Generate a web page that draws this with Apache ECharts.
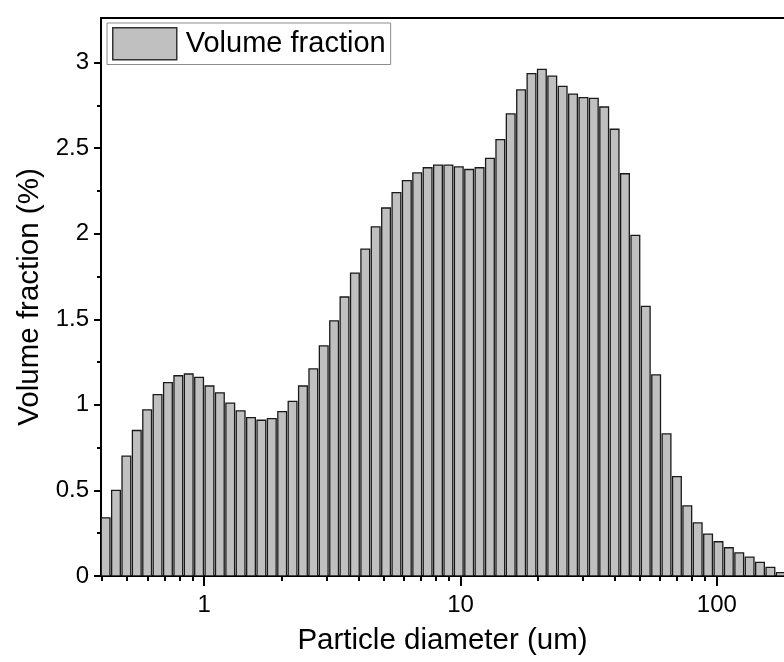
<!DOCTYPE html>
<html>
<head>
<meta charset="utf-8">
<script src="https://cdn.jsdelivr.net/npm/echarts@6/dist/echarts.min.js"></script>
<style>
html,body{margin:0;padding:0;background:#fff;}
#chart{width:784px;height:662px;}
</style>
</head>
<body>
<div id="chart"></div>
<script>
// Bin centre diameters (um)
const diameters = [
  0.4123, 0.4526, 0.4969, 0.5455, 0.5989, 0.6575, 0.7218, 0.7924, 0.8699, 0.9548,
  1.0483, 1.1508, 1.2634, 1.3868, 1.5224, 1.6713, 1.8348, 2.0143, 2.2112, 2.4275,
  2.6650, 2.9256, 3.2118, 3.5260, 3.8709, 4.2494, 4.6651, 5.1215, 5.6223, 6.1722,
  6.7760, 7.4388, 8.1664, 8.9652, 9.8420, 10.805, 11.862, 13.022, 14.296, 15.694,
  17.229, 18.914, 20.764, 22.795, 25.025, 27.472, 30.160, 33.109, 36.348, 39.903,
  43.806, 48.090, 52.794, 57.958, 63.627, 69.850, 76.682, 84.183, 92.417, 101.46,
  111.38, 122.27, 134.23, 147.36, 161.78, 177.60
];
// Volume fraction (%)
const volumeFraction = [
  0.34, 0.50, 0.70, 0.85, 0.97, 1.06, 1.13, 1.17, 1.18, 1.16,
  1.11, 1.07, 1.01, 0.965, 0.925, 0.91, 0.92, 0.96, 1.02, 1.11,
  1.21, 1.345, 1.49, 1.63, 1.77, 1.91, 2.04, 2.15, 2.24, 2.31,
  2.355, 2.385, 2.40, 2.40, 2.39, 2.375, 2.385, 2.44, 2.55, 2.70,
  2.84, 2.935, 2.96, 2.92, 2.86, 2.815, 2.795, 2.79, 2.74, 2.61,
  2.35, 1.99, 1.575, 1.175, 0.83, 0.58, 0.41, 0.31, 0.245, 0.20,
  0.165, 0.135, 0.11, 0.08, 0.05, 0.02
];
const xMajorTicks = [1, 10, 100];
const xMinorTicks = [0.4, 0.5, 0.6, 0.7, 0.8, 0.9, 2, 3, 4, 5, 6, 7, 8, 9, 20, 30, 40, 50, 60, 70, 80, 90];
const yMajorTicks = [0, 0.5, 1, 1.5, 2, 2.5, 3];
const yMinorTicks = [0.25, 0.75, 1.25, 1.75, 2.25, 2.75];

const seriesName = 'Volume fraction';
const FONT = 'Liberation Sans, Arial, Helvetica, sans-serif';
const X_MIN = 0.3956, X_MAX = 182.8;
const Y_MIN = 0, Y_MAX = 3.26;
const fillColor = '#c0c0c0';
const strokeColor = '#1a1a1a';

const chart = echarts.init(document.getElementById('chart'), null, {renderer: 'canvas'});

const data = diameters.map((d, i) => [d, volumeFraction[i]]);

const option = {
  animation: false,
  backgroundColor: '#fff',
  grid: {left: 101, right: 0, top: 18, bottom: 86, containLabel: false, outerBoundsMode: 'none'},
  legend: {
    left: 107, top: 23,
    orient: 'horizontal',
    backgroundColor: '#fff',
    borderColor: '#8c8c8c',
    borderWidth: 1,
    padding: [4, 5, 4, 5],
    itemWidth: 64, itemHeight: 32,
    textStyle: {fontFamily: FONT, fontSize: 29, color: '#000', padding: [0, 0, 0, 4]},
    data: [{name: seriesName, icon: 'rect', itemStyle: {color: fillColor, borderColor: '#333', borderWidth: 1.5}}]
  },
  xAxis: [
    {
      type: 'log', logBase: 10, min: X_MIN, max: X_MAX, position: 'bottom',
      name: 'Particle diameter (um)', nameLocation: 'middle', nameGap: 50,
      nameTextStyle: {fontFamily: FONT, fontSize: 29.5, color: '#000'},
      axisLine: {show: true, lineStyle: {color: '#000', width: 2}},
      axisTick: {show: true, inside: false, length: 10, lineStyle: {color: '#000', width: 2}, customValues: xMajorTicks},
      axisLabel: {show: true, fontFamily: FONT, fontSize: 24, color: '#000', margin: 17, customValues: xMajorTicks,
        formatter: v => String(Math.round(v))},
      splitLine: {show: false}, minorTick: {show: false}, minorSplitLine: {show: false}
    },
    {
      type: 'log', logBase: 10, min: X_MIN, max: X_MAX, position: 'bottom', gridIndex: 0,
      axisLine: {show: false},
      axisTick: {show: true, inside: false, length: 5, lineStyle: {color: '#000', width: 2}, customValues: xMinorTicks},
      axisLabel: {show: false},
      splitLine: {show: false}
    },
    {
      type: 'log', logBase: 10, min: X_MIN, max: X_MAX, position: 'top', gridIndex: 0,
      axisLine: {show: true, lineStyle: {color: '#000', width: 2}},
      axisTick: {show: false}, axisLabel: {show: false}, splitLine: {show: false}
    }
  ],
  yAxis: [
    {
      type: 'value', min: Y_MIN, max: Y_MAX, position: 'left',
      name: 'Volume fraction (%)', nameLocation: 'middle', nameGap: 50, nameRotate: 90,
      nameTextStyle: {fontFamily: FONT, fontSize: 29.5, color: '#000'},
      axisLine: {show: true, lineStyle: {color: '#000', width: 2}},
      axisTick: {show: true, inside: false, length: 7, lineStyle: {color: '#000', width: 2}, customValues: yMajorTicks},
      axisLabel: {show: true, fontFamily: FONT, fontSize: 24, color: '#000', margin: 12, customValues: yMajorTicks,
        formatter: v => String(v)},
      splitLine: {show: false}
    },
    {
      type: 'value', min: Y_MIN, max: Y_MAX, position: 'left', gridIndex: 0,
      axisLine: {show: false},
      axisTick: {show: true, inside: false, length: 4, lineStyle: {color: '#000', width: 2}, customValues: yMinorTicks},
      axisLabel: {show: false}, splitLine: {show: false}
    }
  ],
  series: [{
    name: seriesName,
    type: 'custom',
    xAxisIndex: 0, yAxisIndex: 0,
    clip: true,
    itemStyle: {color: fillColor, borderColor: strokeColor, borderWidth: 1.3},
    encode: {x: 0, y: 1},
    data: data,
    renderItem: function (params, api) {
      const i = params.dataIndex;
      const d = api.value(0), v = api.value(1);
      const base = api.coord([d, 0]);
      const top = api.coord([d, v]);
      const nb = i + 1 < diameters.length ? diameters[i + 1] : diameters[i - 1];
      const pitch = Math.abs(api.coord([nb, 0])[0] - base[0]);
      const w = pitch * 0.84;
      return {
        type: 'rect',
        shape: {x: base[0] - w / 2, y: top[1], width: w, height: base[1] - top[1]},
        style: {fill: fillColor, stroke: strokeColor, lineWidth: 1.3}
      };
    }
  }]
};
chart.setOption(option);
</script>
</body>
</html>
